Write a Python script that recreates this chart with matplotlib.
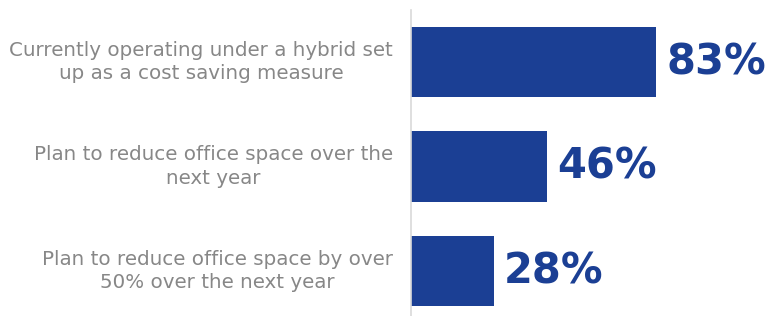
import matplotlib
matplotlib.use('Agg')
import matplotlib.pyplot as plt

# data
labels = ['Currently operating under a hybrid set\nup as a cost saving measure',
          'Plan to reduce office space over the\nnext year',
          'Plan to reduce office space by over\n50% over the next year']
values = [83, 46, 28]

blue = '#1B3F94'
grey = '#878787'

fig = plt.figure(figsize=(7.68, 3.16), dpi=100)
ax = fig.add_axes([411 / 768, 0, 357 / 768, 1 - 10 / 316])

pos = list(range(len(values)))
ax.barh(pos, values, height=0.67, color=blue)
ax.set_xlim(0, 357 / 2.955)
ax.set_ylim(2 + 45 / 104.5, -52 / 104.5)

for p, v, lab in zip(pos, values, labels):
    ax.annotate(f'{v}%', xy=(v, p), xytext=(7.5, 0), textcoords='offset points',
                ha='left', va='center', fontsize=30, fontweight='heavy',
                color=blue)
    ax.annotate(lab, xy=(0, p), xytext=(-13, 0), textcoords='offset points',
                ha='right', va='center', multialignment='center',
                fontsize=14.3, color=grey, linespacing=1.27,
                annotation_clip=False)

for s in ['top', 'right', 'bottom']:
    ax.spines[s].set_visible(False)
ax.spines['left'].set_color('#d9d9d9')
ax.spines['left'].set_linewidth(1.2)
ax.set_xticks([])
ax.set_yticks([])

fig.savefig('out.png', dpi=100)
